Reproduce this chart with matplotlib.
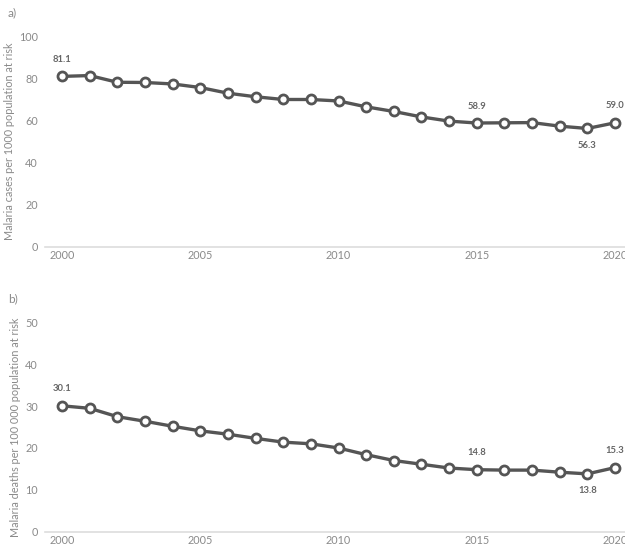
import matplotlib
matplotlib.use("Agg")
import matplotlib.pyplot as plt

plt.rcParams["font.family"] = ["Lato", "DejaVu Sans"]

years = list(range(2000, 2021))

# a) malaria case incidence per 1000 population at risk
cases = [81.1, 81.5, 78.3, 78.2, 77.5, 75.8, 73.1, 71.4, 70.1, 70.1,
         69.4, 66.6, 64.4, 61.8, 59.8, 58.9, 59.0, 59.1, 57.4, 56.3, 59.0]
# b) malaria mortality rate per 100 000 population at risk
deaths = [30.1, 29.5, 27.5, 26.4, 25.2, 24.1, 23.3, 22.3, 21.4, 21.0,
          20.0, 18.4, 17.0, 16.1, 15.2, 14.8, 14.7, 14.7, 14.2, 13.8, 15.3]

cases_labels = {2000: "above", 2015: "above", 2019: "below", 2020: "above"}
deaths_labels = {2000: "above", 2015: "above", 2019: "below", 2020: "above"}

panels = [
    ("a)", cases, cases_labels, 100, 20, "Malaria cases per 1000 population at risk"),
    ("b)", deaths, deaths_labels, 50, 10, "Malaria deaths per 100 000 population at risk"),
]

line_col = "#555555"
text_col = "#8a8a8a"
W, H = 625, 547

fig = plt.figure(figsize=(W / 100, H / 100), dpi=100)

# pixel boxes: (left, bottom-y, top-y)
boxes = [(45, 246.7, 36.7), (45, 531.5, 322.7)]
x_per_year = (615 - 62) / 20

for (tag, vals, labels, ymax, ystep, ylabel), (left, ybot, ytop) in zip(panels, boxes):
    ax = fig.add_axes([left / W, (H - ybot) / H, (W - left) / W, (ybot - ytop) / H])
    ax.plot(years, vals, color=line_col, lw=2.4, marker="o", ms=6.5,
            mfc="white", mec=line_col, mew=2.0, clip_on=False, zorder=3)
    ax.set_xlim(2000 - (62 - left) / x_per_year, 2020 + (W - 615) / x_per_year)
    ax.set_ylim(0, ymax)
    ax.set_xticks([2000, 2005, 2010, 2015, 2020])
    ax.set_yticks(range(0, ymax + 1, ystep))
    ax.tick_params(axis="y", length=0, labelsize=7.8, colors=text_col, pad=5)
    ax.tick_params(axis="x", length=0, labelsize=7.8, colors=text_col, pad=2.5)
    for s in ["top", "right", "left"]:
        ax.spines[s].set_visible(False)
    ax.spines["bottom"].set_color("#dddddd")
    ax.spines["bottom"].set_linewidth(1.2)
    ax.set_ylabel(ylabel, fontsize=7.8, color=text_col, labelpad=3)

    for yr, pos in labels.items():
        v = vals[years.index(yr)]
        off = 9 if pos == "above" else -9
        ax.annotate(f"{v:.1f}", (yr, v), xytext=(0, off), textcoords="offset points",
                    ha="center", va="bottom" if pos == "above" else "top",
                    fontsize=6.8, color="#666666", fontweight="bold")

    fig.text(8 / W, 1 - (ytop - 24) / H, tag, fontsize=8.5, color=text_col, va="center")

fig.savefig("out.png", dpi=100)
